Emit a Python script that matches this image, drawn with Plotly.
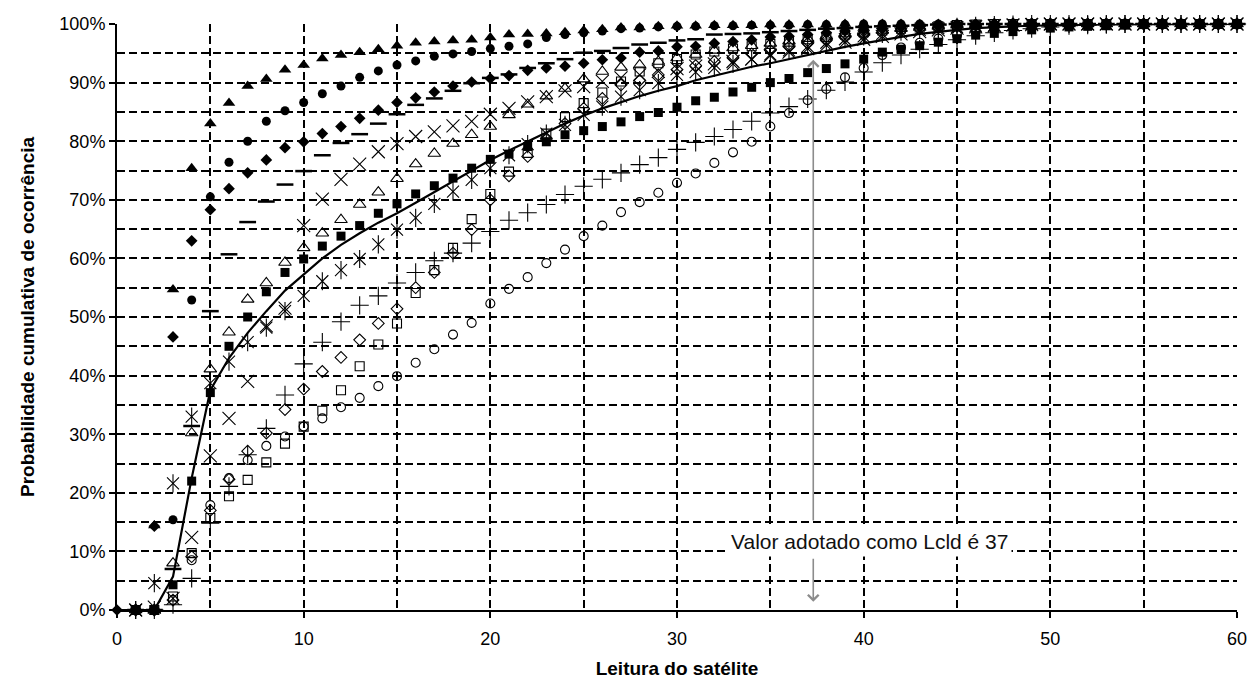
import plotly.graph_objects as go

# ---------------- data (cumulative probability, %) ----------------
x_vals = list(range(1, 61))

tri_filled = [0, 14.4, 54.7, 75.4, 83.0, 86.5, 89.4, 90.6, 92.2, 93.0, 94.1, 94.7, 95.2, 95.7, 96.3,
              96.8, 97.0, 97.2, 97.3, 97.7, 98.2, 98.3, 98.4, 98.6, 98.9, 99.1, 99.4, 99.4, 99.6, 99.7,
              99.7, 99.8, 99.8, 99.8, 99.9, 99.9, 99.9, 99.9, 100, 100, 100, 100, 100, 100, 100,
              100, 100, 100, 100, 100, 100, 100, 100, 100, 100, 100, 100, 100, 100, 100]

circ_filled = [0, 0, 15.4, 52.9, 70.5, 76.4, 80.0, 83.4, 85.2, 86.6, 88.1, 89.4, 90.9, 92.0, 93.0,
               93.7, 94.5, 94.9, 95.3, 95.8, 96.2, 96.6, 97.7, 98.2, 98.5, 98.8, 99.2, 99.3, 99.5, 99.6,
               99.6, 99.7, 99.7, 99.8, 99.8, 99.8, 99.9, 99.9, 99.9, 100, 100, 100, 100, 100, 100,
               100, 100, 100, 100, 100, 100, 100, 100, 100, 100, 100, 100, 100, 100, 100]

diam_x = list(range(0, 61))
diam_filled = [0, 0, 14.3, 46.6, 63.0, 68.3, 71.9, 74.6, 76.8, 78.9, 79.9, 81.3, 82.5, 83.9, 85.3,
               86.6, 87.4, 88.4, 89.4, 90.1, 90.7, 91.2, 92.1, 92.5, 92.8, 93.3, 93.9, 94.2, 95.2, 95.4,
               96.1, 96.2, 96.7, 97.0, 97.3, 97.8, 97.9, 98.2, 98.5, 98.8, 99.0, 99.2, 99.4, 99.5, 99.6,
               99.7, 99.8, 99.9, 100, 100, 100, 100, 100, 100, 100, 100, 100, 100, 100, 100, 100]

dash_vals = [0, 0, 7.0, 31.4, 51.0, 60.7, 66.2, 69.7, 72.6, 74.9, 77.6, 79.7, 81.2, 83.0, 84.6,
             86.2, 87.3, 88.6, 89.9, 90.8, 91.4, 92.5, 93.3, 94.0, 95.1, 95.4, 95.9, 96.5, 96.8, 97.2,
             97.4, 98.2, 98.3, 98.4, 98.6, 98.8, 99.0, 99.2, 99.3, 99.5, 99.6, 99.7, 99.8, 99.9, 100,
             100, 100, 100, 100, 100, 100, 100, 100, 100, 100, 100, 100, 100, 100, 100]

x_mark = [0, 0.5, 2.0, 12.4, 26.3, 32.7, 39.0, 48.5, 51.5, 65.6, 70.1, 73.5, 76.1, 78.2, 79.6,
          80.8, 81.6, 82.6, 83.4, 84.6, 85.6, 86.7, 87.6, 88.6, 89.3, 90.2, 90.8, 91.3, 91.9, 92.4,
          92.8, 93.2, 93.6, 94.0, 94.6, 95.2, 95.8, 96.4, 96.9, 97.4, 97.9, 98.3, 98.7, 99.0, 99.3,
          99.5, 99.7, 99.8, 99.9, 100, 100, 100, 100, 100, 100, 100, 100, 100, 100, 100]

tri_open = [0, 0, 8.0, 30.2, 41.1, 47.4, 53.0, 55.8, 59.3, 61.8, 64.3, 66.6, 69.2, 71.3, 73.6,
            76.1, 77.9, 79.6, 81.1, 82.5, 84.5, 86.3, 87.7, 89.0, 90.6, 91.9, 92.6, 93.0, 93.6, 94.2,
            94.8, 95.5, 95.9, 96.3, 96.7, 97.1, 97.5, 97.9, 98.3, 98.6, 98.9, 99.2, 99.4, 99.6, 99.8,
            99.9, 100, 100, 100, 100, 100, 100, 100, 100, 100, 100, 100, 100, 100, 100]

sq_filled = [0, 0, 4.3, 22.0, 37.1, 45.0, 50.0, 54.3, 57.6, 59.9, 62.1, 63.8, 65.6, 67.7, 69.3,
             71.0, 72.4, 73.7, 75.4, 76.9, 77.8, 79.1, 79.9, 81.1, 81.8, 82.5, 83.3, 84.2, 84.9, 85.8,
             86.9, 87.5, 88.4, 89.2, 90.0, 90.7, 91.7, 92.4, 93.2, 94.0, 95.2, 95.7, 96.3, 96.9, 97.5,
             98.1, 98.4, 98.7, 99.0, 99.3, 99.5, 99.6, 99.7, 99.8, 99.9, 100, 100, 100, 100, 100]

asterisk = [0, 4.6, 21.6, 33.0, 38.7, 42.4, 45.7, 48.2, 51.0, 53.6, 56.1, 58.0, 59.9, 62.4, 64.9,
            66.9, 69.3, 71.4, 73.4, 75.4, 77.6, 79.5, 81.3, 82.8, 84.5, 85.9, 87.6, 88.7, 89.9, 91.3,
            91.8, 92.5, 93.2, 94.0, 94.8, 95.5, 96.2, 96.8, 97.4, 97.9, 98.3, 98.7, 99.0, 99.3, 99.5,
            99.7, 99.8, 99.9, 100, 100, 100, 100, 100, 100, 100, 100, 100, 100, 100, 100]

sq_open = [0, 0, 2.3, 9.7, 15.7, 19.4, 22.2, 25.2, 28.4, 31.3, 34.0, 37.5, 41.6, 45.3, 48.9,
           54.1, 58.0, 61.8, 66.7, 71.0, 74.8, 78.0, 81.3, 84.1, 86.5, 88.3, 90.2, 91.9, 93.3, 94.0,
           94.8, 95.3, 95.8, 96.2, 96.6, 97.0, 97.4, 97.8, 98.2, 98.6, 98.9, 99.2, 99.4, 99.6, 99.8,
           99.9, 100, 100, 100, 100, 100, 100, 100, 100, 100, 100, 100, 100, 100, 100]

diam_open = [0, 0, 1.7, 9.1, 17.0, 22.3, 27.1, 30.2, 34.2, 37.7, 40.7, 43.1, 46.1, 48.9, 51.4,
             55.0, 57.6, 60.9, 64.9, 70.0, 74.1, 77.4, 80.5, 83.0, 85.6, 87.3, 89.6, 90.4, 91.3, 92.2,
             92.9, 93.6, 94.3, 94.9, 95.5, 96.1, 96.7, 97.2, 97.7, 98.1, 98.5, 98.9, 99.2, 99.4, 99.6,
             99.8, 99.9, 100, 100, 100, 100, 100, 100, 100, 100, 100, 100, 100, 100, 100]

plus_vals = [0, 0, 0.9, 5.4, 14.8, 21.1, 26.5, 31.0, 36.7, 42.0, 45.7, 49.2, 52.0, 53.6, 55.8,
             57.6, 59.6, 60.9, 62.6, 64.6, 66.5, 67.8, 69.2, 70.9, 72.3, 73.5, 74.6, 76.0, 77.2, 78.6,
             79.8, 80.8, 82.0, 83.4, 84.8, 85.9, 87.2, 88.7, 90.1, 91.8, 93.4, 94.7, 95.7, 96.5, 97.3,
             98.0, 98.5, 98.9, 99.2, 99.5, 99.7, 99.8, 99.9, 100, 100, 100, 100, 100, 100, 100]

circ_open = [0, 0, 1.7, 8.5, 17.9, 22.5, 25.6, 28.0, 29.6, 31.3, 32.7, 34.6, 36.2, 38.2, 39.9,
             42.2, 44.5, 47.0, 49.0, 52.3, 54.8, 56.8, 59.2, 61.5, 63.8, 65.6, 67.9, 69.6, 71.2, 72.9,
             74.5, 76.3, 78.1, 79.9, 82.5, 84.8, 87.0, 88.9, 90.9, 92.5, 94.7, 96.0, 96.8, 97.5, 98.1,
             98.6, 99.0, 99.3, 99.5, 99.7, 99.8, 99.9, 100, 100, 100, 100, 100, 100, 100, 100]

line_x = list(range(0, 61))
line_vals = [0, 0, 0, 5.7, 22.5, 37.5, 43.0, 47.3, 51.0, 54.5, 57.3, 60.0, 62.3, 64.3, 66.1,
             67.7, 69.5, 71.3, 73.2, 75.0, 76.8, 78.4, 80.0, 81.5, 83.0, 84.4, 85.6, 86.7, 87.7, 88.6,
             89.4, 90.4, 91.2, 92.0, 92.7, 93.3, 94.0, 94.8, 95.5, 96.1, 96.7, 97.3, 97.8, 98.3, 98.7,
             99.0, 99.3, 99.5, 99.6, 99.7, 99.8, 99.85, 99.9, 99.93, 99.95, 99.97, 99.98, 99.99, 100, 100, 100]

lcld_value = 37.3
annotation_text = "Valor adotado como Lcld é 37"

x_ticks = [0, 10, 20, 30, 40, 50, 60]
y_ticks = [0, 10, 20, 30, 40, 50, 60, 70, 80, 90, 100]

FONT = "Liberation Sans, Arial, sans-serif"
DASH = "8px,4px"


def pct(v):
    return [a / 100.0 for a in v]


fig = go.Figure()


def add_series(xs, ys, symbol, size, lw=1.0):
    fig.add_trace(go.Scatter(
        x=xs, y=pct(ys), mode="markers", cliponaxis=False, showlegend=False,
        marker=dict(symbol=symbol, size=size, color="black",
                    line=dict(color="black", width=lw))))


# line first (under markers)
fig.add_trace(go.Scatter(x=line_x, y=pct(line_vals), mode="lines", cliponaxis=False,
                         showlegend=False, line=dict(color="black", width=2.2)))

add_series(x_vals, circ_open, "circle-open", 9, 1.1)
add_series(x_vals, plus_vals, "cross-thin-open", 13, 1.1)
add_series(x_vals, diam_open, "diamond-open", 9, 1.1)
add_series(x_vals, sq_open, "square-open", 9, 1.1)
add_series(x_vals, asterisk, "x-thin-open", 12, 1.1)
add_series(x_vals, asterisk, "line-ns-open", 13, 1.1)
add_series(x_vals, sq_filled, "square", 9, 0)
add_series(x_vals, tri_open, "triangle-up-open", 11, 1.1)
add_series(x_vals, x_mark, "x-thin-open", 13, 1.1)
add_series(x_vals, dash_vals, "line-ew-open", 12, 2.5)
add_series(diam_x, diam_filled, "diamond", 9, 0)
add_series(x_vals, circ_filled, "circle", 9, 0)
add_series(x_vals, tri_filled, "triangle-up", 11, 0)

# annotation with double arrow
ARROW = "#8c8c8c"
fig.add_annotation(x=lcld_value, y=0.939, ax=lcld_value, ay=0.150, xref="x", yref="y",
                   axref="x", ayref="y", text="", showarrow=True, arrowhead=4,
                   arrowsize=1.3, arrowwidth=1.6, arrowcolor=ARROW)
fig.add_annotation(x=lcld_value, y=0.014, ax=lcld_value, ay=0.090, xref="x", yref="y",
                   axref="x", ayref="y", text="", showarrow=True, arrowhead=4,
                   arrowsize=1.3, arrowwidth=1.6, arrowcolor=ARROW)
fig.add_annotation(x=40.3, y=0.117, xref="x", yref="y", text=annotation_text,
                   showarrow=False, bgcolor="white", borderpad=3,
                   font=dict(family=FONT, size=21, color="#111111"))

grid = dict(showgrid=True, gridcolor="black", gridwidth=1.5, griddash=DASH)
minor_grid = dict(ticks="", showgrid=True, gridcolor="black", gridwidth=1.5, griddash=DASH)

fig.update_xaxes(range=[0, 60], tickvals=x_ticks, ticks="outside", ticklen=6, tickwidth=1.5,
                 tickcolor="black", showline=True, linecolor="black", linewidth=2,
                 zeroline=False, ticklabelstandoff=5, automargin=False,
                 tickfont=dict(family=FONT, size=18, color="black"),
                 minor=dict(dtick=5, tick0=0, **minor_grid),
                 title=dict(text="<b>Leitura do satélite</b>", standoff=14,
                            font=dict(family=FONT, size=19, color="black")),
                 **grid)
fig.update_yaxes(range=[0, 1], tickvals=[v / 100 for v in y_ticks], tickformat=".0%",
                 ticks="outside", ticklen=6, tickwidth=1.5, tickcolor="black",
                 showline=True, linecolor="black", linewidth=2, zeroline=False,
                 automargin=False,
                 tickfont=dict(family=FONT, size=18, color="black"),
                 minor=dict(dtick=0.05, tick0=0, **minor_grid),
                 title=dict(text="<b>Probabilidade cumulativa de ocorrência</b>", standoff=20,
                            font=dict(family=FONT, size=19, color="black")),
                 **grid)

fig.update_layout(width=1249, height=691, autosize=False,
                  margin=dict(l=117, r=12, t=24, b=81),
                  paper_bgcolor="white", plot_bgcolor="white",
                  font=dict(family=FONT, color="black"))

# remove the browser's default 8px page margin so the figure fills the window
fig.write_html("out.html", config={"displayModeBar": False},
               post_script="document.body.style.margin='0';document.body.style.overflow='hidden';")
